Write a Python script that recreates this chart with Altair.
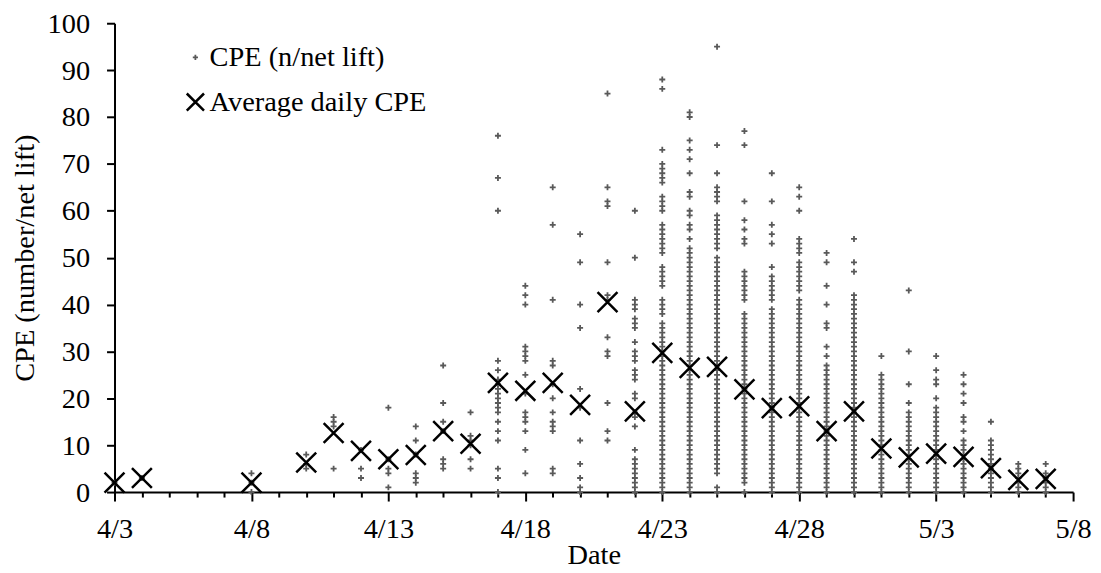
import altair as alt
import pandas as pd

# ---------------- data ----------------
dates = ["4/3", "4/4", "4/8", "4/10", "4/11", "4/12", "4/13", "4/14", "4/15",
         "4/16", "4/17", "4/18", "4/19", "4/20", "4/21", "4/22", "4/23", "4/24",
         "4/25", "4/26", "4/27", "4/28", "4/29", "4/30", "5/1", "5/2", "5/3",
         "5/4", "5/5", "5/6", "5/7"]

avg_cpe = [2.0, 3.0, 2.0, 6.3, 12.6, 8.8, 7.0, 7.9, 13.0, 10.3, 23.3, 21.6,
           23.3, 18.6, 40.5, 17.2, 29.7, 26.5, 26.7, 21.9, 17.9, 18.3, 13.0,
           17.2, 9.3, 7.4, 8.2, 7.5, 5.1, 2.6, 2.8]

cpe_0403 = [2]
cpe_0404 = [3]
cpe_0408 = [4, 2, 0]
cpe_0410 = [8, 6, 5]
cpe_0411 = [16, 15, 14, 5]
cpe_0412 = [9, 5, 3]
cpe_0413 = [18, 7, 5, 4, 1]
cpe_0414 = [14, 11, 8, 4, 3, 2]
cpe_0415 = [27, 19, 15, 13, 7, 6, 5]
cpe_0416 = [17, 12, 11, 10, 7, 5]
cpe_0417 = [76, 67, 60, 28, 26, 24, 23, 22, 21, 20, 19, 18, 17, 15, 13, 11, 5, 3, 0]
cpe_0418 = [44, 42, 40, 31, 30, 29, 28, 25, 21, 17, 16, 15, 13, 9, 4]
cpe_0419 = [65, 57, 41, 28, 27, 23, 20, 17, 15, 14, 13, 5, 4]
cpe_0420 = [55, 49, 40, 35, 22, 18, 11, 6, 3, 1, 0]
cpe_0421 = [85, 65, 62, 61, 49, 42, 41, 33, 30, 29, 19, 13, 11]
cpe_0422 = [60, 50, 41, 40, 39, 37, 36, 35, 32, 30, 29, 28, 26, 25, 24, 21, 20,
            17, 16, 14, 9, 7, 6, 5, 4, 3, 2, 1, 0]
cpe_0423 = [88, 86, 73, 70, 69, 68, 67, 66, 63, 62, 61, 60, 57, 56, 55, 54, 53,
            52, 51, 48, 47, 46, 45, 44, 41, 40, 39, 38, 36, 35, 34, 33, 32, 31,
            30, 29, 28, 27, 26, 25, 24, 23, 22, 21, 20, 19, 18, 17, 16, 15, 14,
            13, 12, 11, 10, 9, 8, 7, 6, 5, 4, 3, 2, 1, 0]
cpe_0424 = [81, 80, 75, 73, 71, 68, 64, 63, 60, 59, 57, 56, 54, 52, 51, 50, 49,
            48, 47, 46, 45, 44, 43, 42, 41, 40, 39, 38, 37, 36, 35, 34, 33, 32,
            31, 30, 29, 28, 27, 26, 25, 24, 23, 22, 21, 20, 19, 18, 17, 16, 15,
            14, 13, 12, 11, 10, 9, 8, 7, 6, 5, 4, 3, 2, 1, 0]
cpe_0425 = [95, 74, 68, 65, 64, 63, 62, 59, 58, 57, 56, 55, 54, 53, 52, 50, 49,
            48, 47, 46, 45, 44, 43, 42, 41, 40, 39, 38, 37, 36, 35, 34, 33, 32,
            31, 30, 29, 28, 27, 26, 25, 24, 23, 22, 21, 20, 19, 18, 17, 16, 15,
            14, 13, 12, 11, 10, 9, 8, 7, 6, 5, 4, 1, 0]
cpe_0426 = [77, 74, 62, 58, 56, 54, 53, 47, 46, 45, 44, 43, 42, 41, 38, 37, 36,
            35, 34, 33, 32, 31, 30, 29, 28, 27, 26, 25, 24, 23, 22, 21, 20, 19,
            18, 17, 16, 15, 14, 13, 12, 11, 10, 9, 8, 7, 6, 5, 4, 3, 2, 0]
cpe_0427 = [68, 62, 57, 55, 53, 48, 46, 45, 44, 43, 42, 41, 39, 38, 37, 36, 35,
            34, 33, 32, 31, 30, 29, 28, 27, 26, 25, 24, 23, 22, 21, 20, 19, 18,
            17, 16, 15, 14, 13, 12, 11, 10, 9, 8, 7, 6, 5, 4, 3, 2, 1, 0]
cpe_0428 = [65, 63, 60, 54, 53, 52, 51, 49, 48, 47, 46, 45, 44, 43, 41, 40, 39,
            38, 37, 36, 35, 34, 33, 32, 31, 30, 29, 28, 27, 26, 25, 24, 23, 22,
            21, 20, 19, 18, 17, 16, 15, 14, 13, 12, 11, 10, 9, 8, 7, 6, 5, 4, 3,
            2, 1, 0]
cpe_0429 = [51, 49, 44, 40, 36, 35, 31, 29, 27, 26, 25, 24, 23, 22, 21, 20, 19,
            18, 17, 16, 15, 14, 13, 12, 11, 10, 9, 8, 7, 6, 5, 4, 3, 2, 1, 0]
cpe_0430 = [54, 49, 47, 42, 41, 40, 39, 38, 37, 36, 35, 34, 33, 32, 31, 30, 29,
            28, 27, 26, 25, 24, 23, 22, 21, 20, 19, 18, 17, 16, 15, 14, 13, 12,
            11, 10, 9, 8, 7, 6, 5, 4, 3, 2, 1, 0]
cpe_0501 = [29, 25, 24, 23, 22, 21, 20, 19, 18, 17, 16, 15, 14, 13, 12, 11, 10,
            9, 8, 7, 6, 5, 4, 3, 2, 1, 0]
cpe_0502 = [43, 30, 23, 19, 17, 16, 15, 14, 13, 12, 11, 10, 9, 8, 7, 6, 5, 4, 3,
            2, 1, 0]
cpe_0503 = [29, 26, 24, 23, 20, 18, 17, 16, 15, 14, 13, 12, 11, 10, 9, 8, 7, 6,
            5, 4, 3, 2, 1, 0]
cpe_0504 = [25, 23, 21, 19, 16, 15, 13, 11, 10, 9, 8, 7, 6, 5, 4, 3, 2, 1, 0]
cpe_0505 = [15, 11, 10, 9, 8, 7, 6, 5, 4, 3, 2, 1, 0]
cpe_0506 = [6, 5, 4, 3, 2, 1, 0]
cpe_0507 = [6, 4, 3, 2, 1, 0]

cpe_by_day = [cpe_0403, cpe_0404, cpe_0408, cpe_0410, cpe_0411, cpe_0412,
              cpe_0413, cpe_0414, cpe_0415, cpe_0416, cpe_0417, cpe_0418,
              cpe_0419, cpe_0420, cpe_0421, cpe_0422, cpe_0423, cpe_0424,
              cpe_0425, cpe_0426, cpe_0427, cpe_0428, cpe_0429, cpe_0430,
              cpe_0501, cpe_0502, cpe_0503, cpe_0504, cpe_0505, cpe_0506,
              cpe_0507]

tick_labels = ["4/3", "4/8", "4/13", "4/18", "4/23", "4/28", "5/3", "5/8"]
series_names = ["CPE (n/net lift)", "Average daily CPE"]

# ---------------- table ----------------
start = pd.Timestamp(2000, 4, 3)


def day_offset(s):
    m, d = (int(p) for p in s.split("/"))
    return (pd.Timestamp(2000, m, d) - start).days


rows = []
for s, vals in zip(dates, cpe_by_day):
    for v in vals:
        rows.append({"day": day_offset(s), "cpe": v, "series": series_names[0]})
for s, v in zip(dates, avg_cpe):
    rows.append({"day": day_offset(s), "cpe": v, "series": series_names[1]})
df = pd.DataFrame(rows)

FONT = "Liberation Serif"
FS = 28.5
plus_path = "M-0.3,0L0.3,0M0,-0.3L0,0.3"
x_path = "M-1,-1L1,1M-1,1L1,-1"

legend = alt.Legend(
    title=None, orient="none", legendX=67, legendY=20,
    labelFont=FONT, labelFontSize=FS, labelColor="black", labelLimit=0,
    labelOffset=0, rowPadding=16, symbolSize=300,
)

label_expr = ("datum.value % 5 === 0 ? " + str(tick_labels) +
              "[datum.value / 5] : ''")

chart = alt.Chart(df).mark_point(
    filled=False, size=400, opacity=1
).encode(
    x=alt.X("day:Q",
            scale=alt.Scale(domain=[0, 35], nice=False, zero=False),
            axis=alt.Axis(
                values=list(range(36)), labelExpr=label_expr,
                tickSize={"condition": {"test": "datum.value % 5 === 0", "value": 9}, "value": 5},
                labelPadding=14, labelOverlap=False, labelFlush=False, labelAngle=0,
                labelFont=FONT, labelFontSize=FS, labelColor="black",
                title="Date", titleFont=FONT, titleFontSize=FS, titleFontWeight="normal",
                titleColor="black", titleX=481.5, titleY=71.7, titleBaseline="alphabetic",
                grid=False, domainColor="black", domainWidth=2,
                tickColor="black", tickWidth=2,
            )),
    y=alt.Y("cpe:Q",
            scale=alt.Scale(domain=[0, 100], nice=False),
            axis=alt.Axis(
                values=list(range(0, 101, 10)), tickSize=8, labelPadding=17,
                labelFont=FONT, labelFontSize=FS, labelColor="black",
                title="CPE (number/net lift)", titleFont=FONT, titleFontSize=FS,
                titleFontWeight="normal", titleColor="black", titleAngle=270,
                titleX=-81.5, titleY=235.5, titleBaseline="alphabetic",
                titleAlign="center",
                grid=False, domainColor="black", domainWidth=2,
                tickColor="black", tickWidth=2,
            )),
    color=alt.Color("series:N",
                    scale=alt.Scale(domain=series_names, range=["#595959", "#000000"]),
                    legend=legend),
    shape=alt.Shape("series:N",
                    scale=alt.Scale(domain=series_names, range=[plus_path, x_path]),
                    legend=legend),
    strokeWidth=alt.StrokeWidth("series:N",
                                scale=alt.Scale(domain=series_names, range=[1.8, 2.5]),
                                legend=legend),
).properties(
    width=963, height=471,
    autosize=alt.AutoSizeParams(type="none"),
    padding={"left": 107, "top": 14, "right": 20, "bottom": 79},
).configure_view(stroke=None)

chart.save("out.html", embed_options={"renderer": "svg", "actions": False})
